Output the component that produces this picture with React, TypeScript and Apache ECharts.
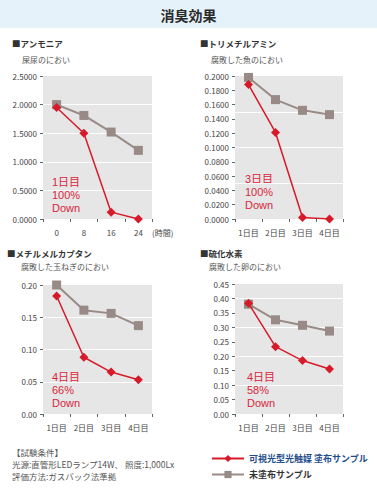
import React, { useEffect, useRef } from "react";
import * as echarts from "echarts";

const FONT = "'Noto Sans CJK JP', 'Noto Sans', sans-serif";
const NOTE_FONT = "'Liberation Sans', 'Noto Sans CJK JP', sans-serif";

const hourCats = ["0", "8", "16", "24"];
const dayCats = ["1日目", "2日目", "3日目", "4日目"];

const ammoniaCoated = [1.95, 1.5, 0.12, 0.0];
const ammoniaUncoated = [2.0, 1.81, 1.52, 1.2];

const trimethylCoated = [0.188, 0.121, 0.002, 0.0];
const trimethylUncoated = [0.198, 0.167, 0.152, 0.146];

const mercaptanCoated = [0.183, 0.088, 0.065, 0.053];
const mercaptanUncoated = [0.2, 0.161, 0.156, 0.137];

const h2sCoated = [0.383, 0.233, 0.185, 0.156];
const h2sUncoated = [0.38, 0.326, 0.307, 0.287];

const COATED = "可視光型光触媒 塗布サンプル";
const UNCOATED = "未塗布サンプル";

const RED = "#d71a2a";
const GRAY = "#988b86";
const NOTE_RED = "#d8263c";

export default function App() {
  const ref = useRef<HTMLDivElement>(null);

  useEffect(() => {
    if (!ref.current) return;
    const chart = echarts.init(ref.current, null, { renderer: "svg" });

    const panels = [
      { grid: { left: 43, top: 76, width: 109, height: 143 }, cats: hourCats, coated: ammoniaCoated, uncoated: ammoniaUncoated, max: 2.5, step: 0.5, gridStep: 0.5, digits: 4 },
      { grid: { left: 235, top: 76, width: 108, height: 143 }, cats: dayCats, coated: trimethylCoated, uncoated: trimethylUncoated, max: 0.2, step: 0.02, gridStep: 0.05, digits: 4 },
      { grid: { left: 43, top: 285, width: 109, height: 129 }, cats: dayCats, coated: mercaptanCoated, uncoated: mercaptanUncoated, max: 0.2, step: 0.05, gridStep: 0.05, digits: 2 },
      { grid: { left: 235, top: 284, width: 108, height: 130 }, cats: dayCats, coated: h2sCoated, uncoated: h2sUncoated, max: 0.45, step: 0.05, gridStep: 0.1, digits: 2 },
    ];

    const grids: any[] = [];
    const xAxes: any[] = [];
    const yAxes: any[] = [];
    const series: any[] = [];

    panels.forEach((p, i) => {
      grids.push({ ...p.grid, show: true, backgroundColor: "#e6e6e6", borderWidth: 0, containLabel: false });
      xAxes.push({
        type: "category",
        gridIndex: i,
        data: p.cats,
        axisLine: { show: false },
        axisTick: { show: true, length: 3, lineStyle: { color: "#666" } },
        axisLabel: { color: "#444", fontSize: 8, fontFamily: FONT, margin: 9 },
        splitLine: { show: false },
      });
      yAxes.push({
        type: "value",
        gridIndex: i,
        min: 0,
        max: p.max,
        interval: p.step,
        axisLine: { show: false },
        axisTick: { show: true, length: 3, lineStyle: { color: "#666" } },
        axisLabel: {
          color: "#444",
          fontSize: 8,
          fontFamily: FONT,
          margin: 6,
          formatter: (v: number) => v.toFixed(p.digits),
        },
        splitLine: { show: false },
      });
      yAxes.push({
        type: "value",
        gridIndex: i,
        min: 0,
        max: p.max,
        interval: p.gridStep,
        position: "left",
        axisLine: { show: false },
        axisTick: { show: false },
        axisLabel: { show: false },
        splitLine: { show: true, showMinLine: false, showMaxLine: false, lineStyle: { color: "#ffffff", width: 1 } },
      });
      series.push({
        type: "line",
        name: UNCOATED,
        xAxisIndex: i,
        yAxisIndex: i * 2,
        data: p.uncoated,
        symbol: "rect",
        symbolSize: 9,
        lineStyle: { color: GRAY, width: 2 },
        itemStyle: { color: GRAY },
        z: 2,
      });
      series.push({
        type: "line",
        name: COATED,
        xAxisIndex: i,
        yAxisIndex: i * 2,
        data: p.coated,
        symbol: "diamond",
        symbolSize: 9,
        lineStyle: { color: RED, width: 1.5 },
        itemStyle: { color: RED },
        z: 3,
      });
    });

    const txt = (x: number, y: number, text: string, size: number, color: string, weight: any = "normal") => ({
      type: "text",
      x,
      y,
      silent: true,
      style: {
        text,
        fill: color,
        fontSize: size,
        fontFamily: FONT,
        fontWeight: weight,
        textAlign: "left",
        textVerticalAlign: "middle",
        align: "left",
        verticalAlign: "middle",
      },
    });

    const note = (x: number, y: number, lines: string[]) =>
      lines.map((line, k) => ({
        type: "text",
        x,
        y: y + k * 13,
        silent: true,
        style: {
          text: line,
          fill: NOTE_RED,
          fontSize: 11,
          fontFamily: NOTE_FONT,
          textAlign: "left",
          textVerticalAlign: "middle",
          align: "left",
          verticalAlign: "middle",
        },
      }));

    const graphic: any[] = [
      { type: "rect", shape: { x: 0, y: 0, width: 377, height: 28 }, style: { fill: "#e5f2fa" }, silent: true },
      {
        type: "text",
        x: 188.5,
        y: 15,
        silent: true,
        style: {
          text: "消臭効果",
          fill: "#2a2a2a",
          fontSize: 14,
          fontFamily: FONT,
          fontWeight: "bold",
          textAlign: "center",
          textVerticalAlign: "middle",
          align: "center",
          verticalAlign: "middle",
        },
      },
      txt(12, 43, "■アンモニア", 8.5, "#333", "bold"),
      txt(22, 59, "屎尿のにおい", 8, "#555"),
      txt(200, 43, "■トリメチルアミン", 8.5, "#333", "bold"),
      txt(211, 59, "腐敗した魚のにおい", 8, "#555"),
      txt(7, 253, "■メチルメルカプタン", 8.5, "#333", "bold"),
      txt(21, 266, "腐敗した玉ねぎのにおい", 8, "#555"),
      txt(200, 253, "■硫化水素", 8.5, "#333", "bold"),
      txt(209, 266, "腐敗した卵のにおい", 8, "#555"),
      txt(152, 232, "(時間)", 8, "#444"),
      ...note(52, 182, ["1日目", "100%", "Down"]),
      ...note(245, 179, ["3日目", "100%", "Down"]),
      ...note(52, 377, ["4日目", "66%", "Down"]),
      ...note(247, 377, ["4日目", "58%", "Down"]),
      txt(12, 452, "【試験条件】", 8.5, "#555"),
      txt(12, 464, "光源:直管形LEDランプ14W、 照度:1,000Lx", 8.5, "#555"),
      txt(12, 476, "評価方法:ガスバック法準拠", 8.5, "#555"),
    ];

    chart.setOption({
      animation: false,
      backgroundColor: "#ffffff",
      textStyle: { fontFamily: FONT },
      grid: grids,
      xAxis: xAxes,
      yAxis: yAxes,
      series,
      legend: {
        orient: "vertical",
        left: 206,
        top: 449,
        itemWidth: 32,
        itemHeight: 9,
        itemGap: 7,
        selectedMode: false,
        data: [
          { name: COATED, textStyle: { color: "#1f4c8c", fontWeight: "bold" } },
          { name: UNCOATED, textStyle: { color: "#333", fontWeight: "bold" } },
        ],
        textStyle: { fontSize: 9, fontFamily: FONT, padding: [0, 0, 0, 0] },
      },
      graphic,
    });

    return () => chart.dispose();
  }, []);

  return (
    <div
      ref={ref}
      style={{ position: "fixed", left: 0, top: 0, width: 377, height: 500 }}
    />
  );
}
